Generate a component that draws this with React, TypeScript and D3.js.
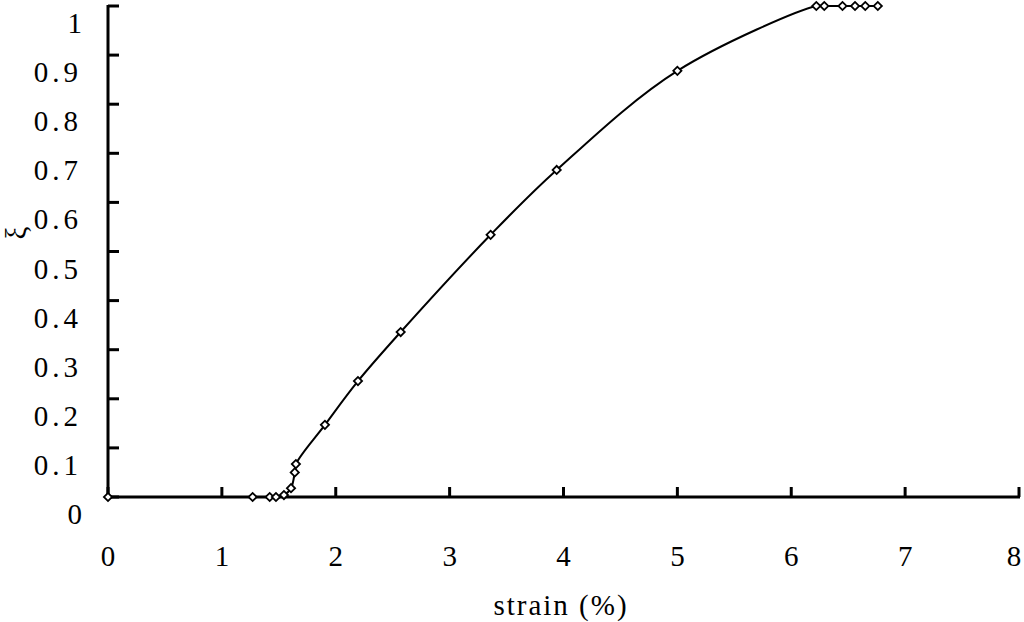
import { useEffect, useRef } from "react";
import * as d3 from "d3";

// strain (%) values
const strain = [
  0, 1.27, 1.42, 1.475, 1.545, 1.607, 1.64, 1.65, 1.905, 2.195, 2.57, 3.36,
  3.94, 5.0, 6.22, 6.29, 6.45, 6.56, 6.65, 6.76,
];
// ξ values
const xi = [
  0, 0, 0, 0, 0.004, 0.018, 0.05, 0.067, 0.147, 0.236, 0.336, 0.534, 0.666,
  0.868, 1, 1, 1, 1, 1, 1,
];
const xTicks = [0, 1, 2, 3, 4, 5, 6, 7, 8];
const yTicks = [0, 0.1, 0.2, 0.3, 0.4, 0.5, 0.6, 0.7, 0.8, 0.9, 1];

const width = 1024;
const height = 622;
const font = "'Liberation Serif', 'DejaVu Serif', serif";

const App = () => {
  const svgRef = useRef<SVGSVGElement | null>(null);

  useEffect(() => {
    const svg = d3.select(svgRef.current);
    svg.selectAll("*").remove();

    const margin = { top: 6, right: 5, bottom: 125, left: 108 };

    const x = d3
      .scaleLinear()
      .domain([0, 8])
      .range([margin.left, width - margin.right]);
    const y = d3
      .scaleLinear()
      .domain([0, 1])
      .range([height - margin.bottom, margin.top]);

    const data = strain.map((s, i) => ({ s, v: xi[i] }));

    // y axis
    const yAxis = svg.append("g");
    yAxis
      .append("line")
      .attr("x1", x(0))
      .attr("x2", x(0))
      .attr("y1", y(0))
      .attr("y2", y(1) - 1)
      .attr("stroke", "#000")
      .attr("stroke-width", 3);
    yAxis
      .selectAll("line.tick")
      .data(yTicks)
      .join("line")
      .attr("class", "tick")
      .attr("x1", x(0))
      .attr("x2", x(0) + 11)
      .attr("y1", (d) => y(d))
      .attr("y2", (d) => y(d))
      .attr("stroke", "#000")
      .attr("stroke-width", 3);
    yAxis
      .selectAll("text")
      .data(yTicks)
      .join("text")
      .attr("x", 82)
      .attr("y", (d) => y(d) + 27)
      .attr("text-anchor", "end")
      .attr("font-family", font)
      .attr("font-size", 29)
      .attr("letter-spacing", (d) => (d === 0 || d === 1 ? 0 : 4))
      .text((d) => d3.format("~g")(d));

    // x axis
    const xAxis = svg.append("g");
    xAxis
      .append("line")
      .attr("x1", x(0))
      .attr("x2", x(8) + 1)
      .attr("y1", y(0))
      .attr("y2", y(0))
      .attr("stroke", "#000")
      .attr("stroke-width", 3);
    xAxis
      .selectAll("line.tick")
      .data(xTicks)
      .join("line")
      .attr("class", "tick")
      .attr("x1", (d) => x(d))
      .attr("x2", (d) => x(d))
      .attr("y1", y(0))
      .attr("y2", y(0) - 10)
      .attr("stroke", "#000")
      .attr("stroke-width", 3);
    xAxis
      .selectAll("text")
      .data(xTicks)
      .join("text")
      .attr("x", (d) => Math.min(x(d), width - 10))
      .attr("y", 566)
      .attr("text-anchor", "middle")
      .attr("font-family", font)
      .attr("font-size", 29)
      .text((d) => d);

    svg
      .append("text")
      .attr("x", 561)
      .attr("y", 615)
      .attr("text-anchor", "middle")
      .attr("font-family", font)
      .attr("font-size", 29)
      .attr("letter-spacing", 2)
      .text("strain (%)");

    svg
      .append("text")
      .attr("transform", "translate(26,233) rotate(-90)")
      .attr("text-anchor", "middle")
      .attr("font-family", font)
      .attr("font-size", 29)
      .text("ξ");

    // curve
    const line = d3
      .line<{ s: number; v: number }>()
      .x((d) => x(d.s))
      .y((d) => y(d.v))
      .curve(d3.curveCatmullRom.alpha(0.5));

    svg
      .append("path")
      .datum(data)
      .attr("d", line)
      .attr("fill", "none")
      .attr("stroke", "#000")
      .attr("stroke-width", 2);

    svg
      .append("g")
      .selectAll("path")
      .data(data)
      .join("path")
      .attr("transform", (d) => `translate(${x(d.s)},${y(d.v)}) rotate(45)`)
      .attr("d", "M-2.9,-2.9H2.9V2.9H-2.9Z")
      .attr("fill", "#fff")
      .attr("stroke", "#000")
      .attr("stroke-width", 1.8);
  }, []);

  return (
    <svg
      ref={svgRef}
      width={width}
      height={height}
      style={{ position: "absolute", left: 0, top: 0, background: "#fff" }}
    />
  );
};

export default App;
